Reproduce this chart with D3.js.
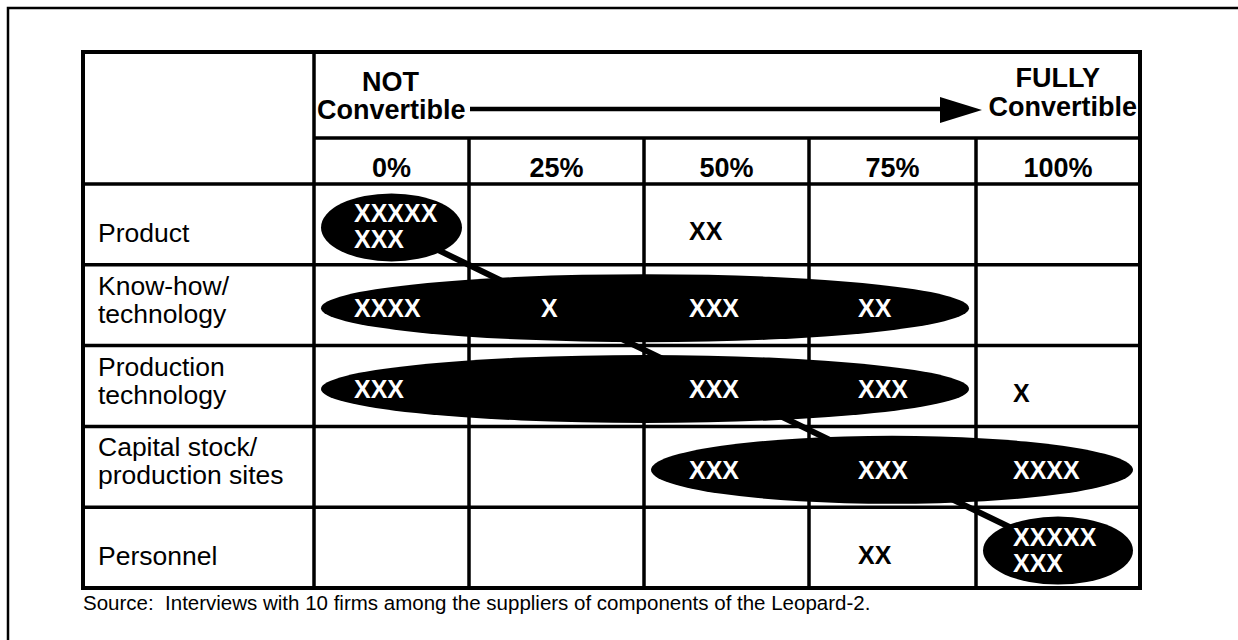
<!DOCTYPE html>
<html>
<head>
<meta charset="utf-8">
<script src="https://cdn.jsdelivr.net/npm/d3@7"></script>
<style>
    body { margin: 0; background: #fff; }
    svg text { font-family: "Liberation Sans", Arial, Helvetica, sans-serif; }
</style>
</head>
<body>
<svg id="convchart"></svg>
<script>
// row labels (one entry per line of the label)
const rowLabels = [
    ["Product"],
    ["Know-how/", "technology"],
    ["Production", "technology"],
    ["Capital stock/", "production sites"],
    ["Personnel"]
]
// degree of convertibility
const levels = ["0%", "25%", "50%", "75%", "100%"]
// number of firms (one X each) per row and level
const firmCounts = [
    [8, 0, 2, 0, 0],
    [4, 1, 3, 2, 0],
    [3, 0, 3, 3, 1],
    [0, 0, 3, 3, 4],
    [0, 0, 0, 2, 8]
]
// levels circled by the black ellipse in each row (first, last)
const circledFrom = ["0%", "0%", "0%", "50%", "100%"]
const circledTo = ["0%", "75%", "75%", "100%", "100%"]
// scale ends in the header
const leftEnd = ["NOT", "Convertible"]
const rightEnd = ["FULLY", "Convertible"]
const sourceNote = "Source:  Interviews with 10 firms among the suppliers of components of the Leopard-2."

class ConvertibilityTable {
    constructor() {
        // svg size
        this.width = 1238
        this.height = 640

        // table frame
        this.left = 83
        this.top = 52
        this.right = 1140
        this.bottom = 588
        this.labelRight = 314
        this.headerSplit = 138
        this.bodyTop = 184

        this.draw()
    }

    // splits a count into lines of at most five X's
    marks(n) {
        if (n === 0) return []
        if (n > 5) return ["XXXXX", "X".repeat(n - 5)]
        return ["X".repeat(n)]
    }

    draw() {
        let that = this
        let svg = d3.select('#convchart')
            .attr('width', this.width)
            .attr('height', this.height)

        // column edges (hand drawn widths in the original, so piecewise)
        let edge = d3.scaleLinear()
            .domain([0, 1, 2, 3, 4, 5])
            .range([this.labelRight, 469, 644, 809, 976, this.right])
        let colIndex = d3.scaleOrdinal().domain(levels).range(d3.range(levels.length))
        let colLeft = (lv) => edge(colIndex(lv))
        let colRight = (lv) => edge(colIndex(lv) + 1)
        let colMid = (lv) => (colLeft(lv) + colRight(lv)) / 2

        // rows
        let yScale = d3.scaleBand()
            .domain(d3.range(rowLabels.length))
            .range([this.bodyTop, this.bottom])
        let rowMid = (i) => yScale(i) + yScale.bandwidth() / 2

        // page frame (top and left edge only)
        svg.append('path')
            .attr('d', `M8,${this.height} L8,8 L${this.width},8`)
            .attr('fill', 'none')
            .attr('stroke', '#000')
            .attr('stroke-width', 2.5)

        // grid lines
        let grid = svg.append('g').attr('stroke', '#000').attr('stroke-width', 3.5)
        grid.append('line')
            .attr('x1', this.labelRight).attr('x2', this.labelRight)
            .attr('y1', this.top).attr('y2', this.bottom)
        grid.append('line')
            .attr('x1', this.labelRight).attr('x2', this.right)
            .attr('y1', this.headerSplit).attr('y2', this.headerSplit)
        grid.selectAll('.vline')
            .data(levels.slice(1))
            .join('line')
            .attr('class', 'vline')
            .attr('x1', d => colLeft(d)).attr('x2', d => colLeft(d))
            .attr('y1', this.headerSplit).attr('y2', this.bottom)
        grid.selectAll('.hline')
            .data(d3.range(rowLabels.length))
            .join('line')
            .attr('class', 'hline')
            .attr('x1', this.left).attr('x2', this.right)
            .attr('y1', d => yScale(d)).attr('y2', d => yScale(d))
        svg.append('rect')
            .attr('x', this.left).attr('y', this.top)
            .attr('width', this.right - this.left)
            .attr('height', this.bottom - this.top)
            .attr('fill', 'none')
            .attr('stroke', '#000')
            .attr('stroke-width', 4)

        // header: arrow from NOT to FULLY convertible
        let head = svg.append('g')
            .style('font-weight', 'bold')
            .style('font-size', '27px')
        head.append('text').attr('x', 362).attr('y', 91).text(leftEnd[0])
        head.append('text').attr('x', 317).attr('y', 119).text(leftEnd[1])
        head.append('text').attr('x', 1100).attr('y', 87).attr('text-anchor', 'end').text(rightEnd[0])
        head.append('text').attr('x', 1137).attr('y', 116).attr('text-anchor', 'end').text(rightEnd[1])
        head.append('line')
            .attr('x1', 470).attr('x2', 945)
            .attr('y1', 109).attr('y2', 109)
            .attr('stroke', '#000').attr('stroke-width', 4.5)
        head.append('path')
            .attr('d', 'M940,97 L982,110 L940,123 Z')
            .attr('fill', '#000')

        // percent labels
        head.selectAll('.lvl')
            .data(levels)
            .join('text')
            .attr('class', 'lvl')
            .attr('x', d => colMid(d))
            .attr('y', 177)
            .attr('text-anchor', 'middle')
            .text(d => d)

        // row labels, bottom aligned in the cell
        svg.selectAll('.rowlabel')
            .data(rowLabels)
            .join('text')
            .attr('class', 'rowlabel')
            .style('font-size', '26.5px')
            .each(function (lines, i) {
                let first = lines.length === 1 ? yScale(i) + 58 : yScale(i) + 30
                d3.select(this).selectAll('tspan')
                    .data(lines)
                    .join('tspan')
                    .attr('x', 98)
                    .attr('y', (d, k) => first + k * 28)
                    .text(d => d)
            })

        // ellipse geometry from the circled span
        let inset = 7
        let ell = rowLabels.map((r, i) => {
            let x0 = colLeft(circledFrom[i]) + inset
            let x1 = colRight(circledTo[i]) - inset
            return { cx: (x0 + x1) / 2, cy: rowMid(i) + 3, rx: (x1 - x0) / 2, ry: 34 }
        })

        // connector from the first to the last ellipse
        svg.append('line')
            .attr('x1', ell[0].cx).attr('y1', ell[0].cy)
            .attr('x2', ell[ell.length - 1].cx).attr('y2', ell[ell.length - 1].cy)
            .attr('stroke', '#000')
            .attr('stroke-width', 6)

        svg.selectAll('ellipse')
            .data(ell)
            .join('ellipse')
            .attr('cx', d => d.cx).attr('cy', d => d.cy)
            .attr('rx', d => d.rx).attr('ry', d => d.ry)
            .attr('fill', '#000')

        // X marks, white inside the ellipse
        let markInset = [40, 72, 45, 49, 37]
        let cells = []
        firmCounts.forEach((row, i) => {
            row.forEach((n, j) => {
                if (n === 0) return
                let inside = j >= colIndex(circledFrom[i]) && j <= colIndex(circledTo[i])
                cells.push({ row: i, level: levels[j], n: n, inside: inside })
            })
        })
        svg.selectAll('.mark')
            .data(cells)
            .join('text')
            .attr('class', 'mark')
            .style('font-weight', 'bold')
            .style('font-size', '25px')
            .attr('fill', d => d.inside ? '#fff' : '#000')
            .each(function (d) {
                let lines = that.marks(d.n)
                let cy = rowMid(d.row) + 3
                // lone marks outside an ellipse sit a little lower
                let first = lines.length === 1 ? cy + (d.inside ? 9 : 13) : cy - 5
                d3.select(this).selectAll('tspan')
                    .data(lines)
                    .join('tspan')
                    .attr('x', colLeft(d.level) + markInset[colIndex(d.level)])
                    .attr('y', (t, k) => first + k * 26)
                    .text(t => t)
            })

        // source note (keep the double space after the colon)
        svg.append('text')
            .attr('x', 83)
            .attr('y', 610)
            .style('font-size', '20.5px')
            .style('white-space', 'pre')
            .text(sourceNote)
    }
}

new ConvertibilityTable()
</script>
</body>
</html>
